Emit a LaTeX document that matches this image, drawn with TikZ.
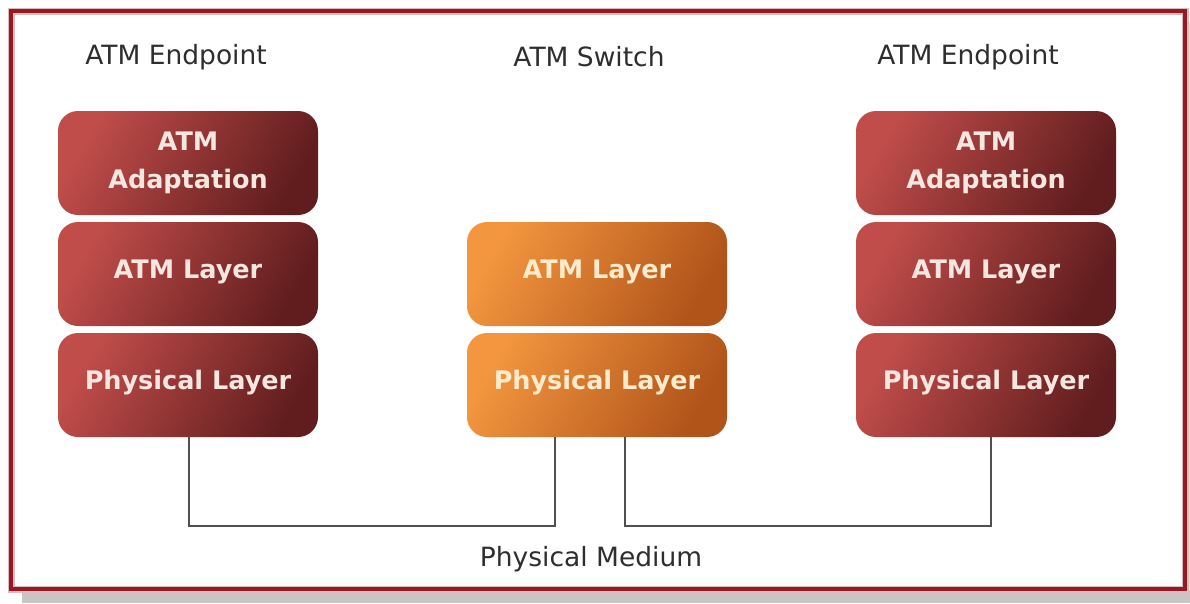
\documentclass[tikz,border=0pt]{standalone}
\usepackage{fontspec}
\setmainfont{DejaVu Sans}
\usetikzlibrary{positioning}
\definecolor{frameRed}{HTML}{931A23}
\definecolor{shadowGray}{HTML}{C9C5C5}
\definecolor{redLight}{HTML}{C04D4A}
\definecolor{redDark}{HTML}{611D1E}
\definecolor{orangeLight}{HTML}{F3963F}
\definecolor{orangeDark}{HTML}{B0541A}
\definecolor{redText}{HTML}{F6E6E0}
\definecolor{orangeText}{HTML}{FCEBCB}
\definecolor{wireGray}{HTML}{505050}
\definecolor{labelGray}{HTML}{2E2E2E}
\tikzset{
  layerbox/.style={rounded corners=20pt, minimum width=260pt, minimum height=104pt,
    align=center, inner sep=0pt, font=\fontsize{25.5}{38}\selectfont\bfseries},
  oneline/.style={text height=17pt, text depth=9pt},
  redlayer/.style={layerbox, left color=redLight, right color=redDark, shading angle=60,
    text=redText},
  orangelayer/.style={layerbox, left color=orangeLight, right color=orangeDark, shading angle=60,
    text=orangeText},
  heading/.style={font=\fontsize{26.5}{32}\selectfont, text=labelGray, inner sep=0pt},
  wire/.style={draw=wireGray, line width=1.6pt},
}
\begin{document}
\begin{tikzpicture}[x=1pt, y=-1pt]
  \useasboundingbox (0,0) rectangle (1190,603);
  \fill[white] (0,0) rectangle (1190,603);
  % drop shadow under the frame
  \fill[shadowGray] (22,591) rectangle (1190,603);
  \fill[shadowGray!60] (1187,22) rectangle (1190,591);
  % frame
  \draw[frameRed!30, line width=7pt] (11,11) rectangle (1185,589);
  \draw[frameRed, line width=4pt] (11,11) rectangle (1185,589);

  % column headings
  \node[heading] (hL) at (176,57) {ATM Endpoint};
  \node[heading] (hC) at (589,57) {ATM Switch};
  \node[heading] (hR) at (968,57) {ATM Endpoint};

  % left endpoint stack
  \node[redlayer] (lAd) at (188,163) {ATM\\Adaptation};
  \node[redlayer, oneline] (lAtm) at (188,274) {ATM Layer};
  \node[redlayer, oneline] (lPhy) at (188,385) {Physical Layer};

  % switch stack
  \node[orangelayer, oneline] (cAtm) at (597,274) {ATM Layer};
  \node[orangelayer, oneline] (cPhy) at (597,385) {Physical Layer};

  % right endpoint stack
  \node[redlayer] (rAd) at (986,163) {ATM\\Adaptation};
  \node[redlayer, oneline] (rAtm) at (986,274) {ATM Layer};
  \node[redlayer, oneline] (rPhy) at (986,385) {Physical Layer};

  % physical medium links
  \coordinate (lDrop) at (189,437);
  \coordinate (cDropL) at (555,437);
  \coordinate (cDropR) at (625,437);
  \coordinate (rDrop) at (991,437);
  \draw[wire] (lDrop) |- (370,526) -| (cDropL);
  \draw[wire] (cDropR) |- (800,526) -| (rDrop);

  \node[heading] (medium) at (591,559) {Physical Medium};
\end{tikzpicture}
\end{document}
